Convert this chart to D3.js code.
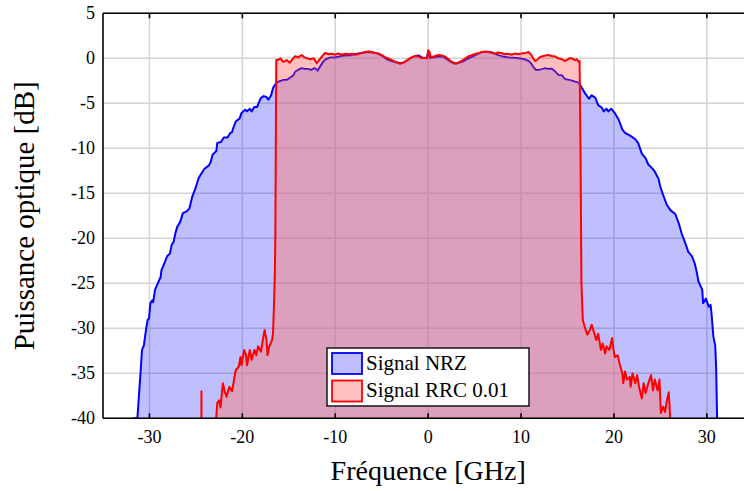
<!DOCTYPE html>
<html>
<head>
<meta charset="utf-8">
<script src="https://cdn.jsdelivr.net/npm/d3@7"></script>
<style>
  html, body { margin: 0; padding: 0; background: #fff; }
  svg { display: block; }
  text { font-family: "Liberation Serif", "DejaVu Serif", serif; fill: #000; }
</style>
</head>
<body>
<svg id="chart" width="744" height="491"></svg>
<script>
// Axis ticks
const xTicks = [-30, -20, -10, 0, 10, 20, 30];
const yTicks = [5, 0, -5, -10, -15, -20, -25, -30, -35, -40];

// Spectrum of the NRZ signal: frequency [GHz] and optical power [dB]
const nrzFreq = [
  -31.7, -31.3, -31.1, -30.9, -30.8, -30.6, -30.35, -30.2, -30.05, -29.9, -29.7, -29.6, -29.4, -29.1,
  -28.8, -28.7, -28.4, -28.1, -27.8, -27.6, -27.4, -27.2, -27.0, -26.7, -26.4, -26.0, -25.7, -25.4,
  -25.1, -24.7, -24.4, -24.1, -23.6, -23.4, -23.2, -22.8, -22.7, -22.3, -22.0, -21.6, -21.3, -21.1,
  -21.0, -20.7, -20.3, -20.1, -19.7, -19.5, -19.2, -19.0, -18.7, -18.4, -18.3, -18.0, -17.7, -17.4,
  -17.2, -16.9, -16.7, -16.4, -16.1, -15.8, -15.5, -15.2, -14.9, -14.5, -14.3, -14.0, -13.6, -13.3,
  -12.9, -12.6, -12.2, -11.9, -11.6, -11.3, -11.0, -10.5, -10.0, -9.5, -8.9, -8.4, -7.9, -7.3,
  -6.8, -6.3, -5.7, -5.3, -4.8, -4.4, -4.0, -3.5, -3.0, -2.6, -2.2, -1.8, -1.4, -1.0, -0.6, -0.2,
  0.0, 0.2, 0.6, 1.0, 1.5, 2.0, 2.5, 2.9, 3.3, 3.8, 4.3, 4.8, 5.3, 5.8, 6.3, 6.9, 7.5, 8.0,
  8.6, 9.1, 9.7, 10.3, 10.8, 11.1, 11.3, 11.6, 11.9, 12.3, 12.6, 13.0, 13.3, 13.7, 14.0, 14.4,
  14.7, 15.1, 15.5, 15.8, 16.2, 16.5, 16.9, 17.3, 17.6, 18.0, 18.3, 18.7, 18.9, 19.2, 19.4, 19.7,
  20.1, 20.5, 20.9, 21.2, 21.6, 21.9, 22.3, 22.6, 23.0, 23.4, 23.7, 24.1, 24.4, 24.8, 25.0, 25.3,
  25.7, 26.1, 26.6, 27.0, 27.3, 27.7, 28.0, 28.4, 28.7, 28.9, 29.1, 29.5, 29.6, 29.9, 30.2, 30.4,
  30.5, 30.7, 30.9, 31.0, 31.1, 31.2
];
const nrzPower = [
  -40.0, -40.0, -37.0, -34.0, -32.4, -31.9, -30.0, -29.1, -28.9, -27.2, -26.9, -27.1, -25.7, -25.0,
  -24.3, -23.5, -22.8, -22.0, -21.7, -20.7, -20.4, -19.4, -18.7, -18.2, -17.2, -17.0, -16.7, -15.4,
  -14.6, -13.3, -12.8, -12.3, -11.9, -11.5, -10.7, -10.3, -9.4, -9.3, -8.8, -8.8, -8.3, -8.2,
  -7.8, -7.0, -6.7, -6.1, -5.7, -5.9, -5.6, -5.9, -5.4, -5.4, -5.1, -4.4, -4.2, -4.3,
  -4.6, -4.1, -3.3, -2.8, -2.6, -2.5, -2.4, -2.4, -2.2, -1.9, -1.5, -1.3, -1.1, -1.2,
  -1.2, -1.3, -1.1, -1.4, -0.9, -0.4, -0.1, 0.1, 0.1, 0.2, 0.3, 0.3, 0.45, 0.55,
  0.65, 0.7, 0.6, 0.45, 0.15, -0.15, -0.3, -0.45, -0.55, -0.45, -0.2, 0.05, 0.25, 0.3, 0.05, 0.0,
  0.6, 0.0, 0.1, 0.15, 0.2, -0.1, -0.45, -0.6, -0.5, -0.35, -0.05, 0.2, 0.45, 0.7, 0.7, 0.65, 0.35, 0.2,
  0.1, 0.05, 0.0, -0.1, -0.3, -0.6, -0.95, -1.3, -1.3, -1.2, -1.1, -1.2, -1.15, -1.5, -1.85, -1.9,
  -2.3, -2.4, -2.5, -2.6, -2.7, -3.2, -3.9, -4.5, -4.1, -4.4, -5.2, -5.5, -5.9, -5.6, -5.9, -5.6,
  -6.1, -6.8, -7.9, -8.3, -8.5, -8.7, -9.0, -9.4, -10.6, -11.1, -11.8, -12.2, -12.6, -13.4, -14.3, -15.2,
  -16.3, -16.9, -17.3, -18.4, -19.5, -20.6, -21.5, -22.0, -22.8, -23.7, -24.8, -25.7, -27.2, -26.7, -27.6, -27.4,
  -28.3, -30.9, -31.9, -34.3, -39.8, -45.0
];

// Spectrum of the RRC (roll-off 0.01) signal
const rrcFreq = [
  -35.0, -24.45, -24.4, -24.35, -22.9, -22.8, -22.7, -22.5, -22.35, -22.1, -21.9, -21.7, -21.4, -21.1,
  -20.9, -20.7, -20.4, -20.2, -20.1, -19.8, -19.6, -19.5, -19.2, -19.0, -18.7, -18.5, -18.3, -18.0,
  -17.8, -17.6, -17.4, -17.3, -17.1, -16.8, -16.7, -16.6, -16.5, -16.45, -16.4, -16.35, -16.2, -15.9,
  -15.6, -15.2, -14.9, -14.6, -14.3, -14.0, -13.6, -13.3, -12.7, -12.3, -12.0, -11.6, -11.1, -10.7,
  -10.4, -10.0, -9.7, -9.3, -8.9, -8.5, -8.2, -7.8, -7.5, -7.1, -6.8, -6.4, -6.1, -5.7, -5.35, -4.9,
  -4.6, -4.2, -3.9, -3.5, -3.0, -2.6, -2.1, -1.8, -1.4, -1.0, -0.7, -0.3, -0.1, 0.0, 0.15, 0.3,
  0.6, 1.1, 1.5, 1.8, 2.2, 2.55, 3.0, 3.3, 3.6, 4.0, 4.3, 4.7, 5.1, 5.5, 5.8, 6.2, 6.5, 6.9,
  7.2, 7.5, 7.9, 8.2, 8.6, 9.0, 9.4, 9.7, 10.1, 10.5, 10.8, 11.1, 11.3, 11.5, 11.7, 12.0, 12.2,
  12.6, 12.95, 13.3, 13.7, 14.0, 14.4, 14.7, 14.9, 15.2, 15.5, 15.8, 16.0, 16.2, 16.3, 16.4, 16.5,
  16.65, 16.9, 17.15, 17.4, 17.6, 17.9, 18.1, 18.3, 18.6, 18.8, 19.05, 19.2, 19.5, 19.8, 19.95, 20.1,
  20.4, 20.6, 20.9, 21.0, 21.2, 21.4, 21.7, 21.8, 22.0, 22.3, 22.5, 22.7, 23.0, 23.2, 23.4, 23.7,
  24.0, 24.2, 24.4, 24.7, 24.9, 25.05, 25.3, 25.5, 25.7, 25.9, 26.05, 26.1, 35.0
];
const rrcPower = [
  -60.0, -60.0, -37.0, -60.0, -60.0, -39.8, -38.3, -38.0, -38.8, -36.1, -37.0, -37.6, -36.5, -37.0,
  -35.7, -34.6, -34.3, -33.2, -34.1, -32.4, -33.0, -34.1, -32.4, -33.5, -32.4, -33.0, -32.0, -32.6,
  -31.3, -30.2, -31.3, -33.0, -32.0, -31.3, -30.6, -27.6, -23.9, -20.0, -10.0, -0.2, -0.2, 0.0,
  -0.4, -0.2, -0.5, -0.1, 0.25, 0.1, 0.37, 0.1, -0.1, 0.0, -0.55, 0.0, 0.6, 0.45,
  0.5, 0.4, 0.55, 0.4, 0.5, 0.45, 0.5, 0.4, 0.5, 0.6, 0.7, 0.75, 0.7, 0.6, 0.55, 0.3,
  0.1, -0.05, -0.2, -0.4, -0.6, -0.45, -0.1, 0.1, 0.25, 0.2, 0.0, 0.05, 0.0, 0.9, 0.7, 0.1,
  0.2, 0.37, 0.3, 0.2, -0.1, -0.4, -0.6, -0.45, -0.3, 0.0, 0.2, 0.35, 0.5, 0.6, 0.7, 0.75, 0.7, 0.6,
  0.5, 0.65, 0.6, 0.45, 0.5, 0.4, 0.55, 0.45, 0.55, 0.6, 0.7, 0.4, 0.0, -0.3, -0.2, 0.1, 0.2,
  0.3, 0.37, 0.25, 0.2, 0.0, -0.1, -0.3, -0.2, 0.0, 0.0, -0.2, -0.1, -0.4, -0.3, -10.0, -25.0,
  -29.1, -30.0, -30.7, -30.2, -29.6, -30.6, -31.3, -30.6, -32.4, -31.7, -32.8, -32.0, -32.4, -31.1, -32.4, -33.2,
  -33.0, -33.9, -35.0, -36.1, -34.8, -35.7, -35.4, -36.5, -35.0, -36.1, -35.2, -36.5, -37.8, -36.1, -37.2, -36.1,
  -35.2, -36.9, -35.7, -36.9, -35.7, -39.4, -38.7, -39.3, -38.0, -37.1, -39.8, -60.0, -60.0
];

const seriesNames = ["Signal NRZ", "Signal RRC 0.01"];
const xLabel = "Fréquence [GHz]";
const yLabel = "Puissance optique [dB]";

const nrz = nrzFreq.map((f, i) => ({ f, p: nrzPower[i] }));
const rrc = rrcFreq.map((f, i) => ({ f, p: rrcPower[i] }));

const svg = d3.select("#chart");
const plotLeft = 103, plotTop = 13.3, plotBottom = 418.3;
const x = d3.scaleLinear().domain([-35, 35]).range([plotLeft, plotLeft + 70 * 9.29]);
const y = d3.scaleLinear().domain([-40, 5]).range([plotBottom, plotTop]);
const plotRight = x(35);

const area = d3.area().x(d => x(d.f)).y0(y(-40)).y1(d => y(d.p));
const line = d3.line().x(d => x(d.f)).y(d => y(d.p));

const defs = svg.append("defs");
defs.append("clipPath").attr("id", "plotClip")
  .append("rect").attr("x", plotLeft).attr("y", plotTop)
  .attr("width", plotRight - plotLeft).attr("height", plotBottom - plotTop);
// Region under the NRZ curve, used to tint where both spectra overlap
defs.append("clipPath").attr("id", "nrzClip")
  .append("path").datum(nrz).attr("d", area);

// Grid
const grid = svg.append("g").attr("stroke", "#d4d4d4").attr("stroke-width", 1.5);
grid.selectAll("line.gx").data(xTicks).join("line")
  .attr("x1", d => x(d)).attr("x2", d => x(d)).attr("y1", plotTop).attr("y2", plotBottom);
grid.selectAll("line.gy").data(yTicks).join("line")
  .attr("y1", d => y(d)).attr("y2", d => y(d)).attr("x1", plotLeft).attr("x2", plotRight);

// Filled spectra and their outlines
const plot = svg.append("g").attr("clip-path", "url(#plotClip)");
plot.append("path").datum(nrz).attr("d", area).attr("fill", "#0000ff").attr("fill-opacity", 0.25);
plot.append("path").datum(nrz).attr("d", line).attr("fill", "none")
  .attr("stroke", "#0000ff").attr("stroke-width", 2).attr("stroke-linejoin", "round");
plot.append("path").datum(rrc).attr("d", area).attr("fill", "#ff0000").attr("fill-opacity", 0.25);
plot.append("g").attr("clip-path", "url(#nrzClip)")
  .append("path").datum(rrc).attr("d", area).attr("fill", "#fec8bc").attr("fill-opacity", 0.3);
plot.append("path").datum(rrc).attr("d", line).attr("fill", "none")
  .attr("stroke", "#ff0000").attr("stroke-width", 2).attr("stroke-linejoin", "round");

// Frame (left, top, bottom)
const frame = svg.append("g").attr("stroke", "#000").attr("stroke-width", 1.6).attr("fill", "none");
frame.append("line").attr("x1", plotLeft).attr("x2", plotLeft).attr("y1", plotTop).attr("y2", plotBottom);
frame.append("line").attr("x1", plotLeft).attr("x2", plotRight).attr("y1", plotTop).attr("y2", plotTop);
frame.append("line").attr("x1", plotLeft).attr("x2", plotRight).attr("y1", plotBottom).attr("y2", plotBottom);

// Inward ticks on top and bottom
frame.selectAll("line.tb").data(xTicks).join("line")
  .attr("x1", d => x(d)).attr("x2", d => x(d)).attr("y1", plotBottom).attr("y2", plotBottom - 5);
frame.selectAll("line.tt").data(xTicks).join("line")
  .attr("x1", d => x(d)).attr("x2", d => x(d)).attr("y1", plotTop).attr("y2", plotTop + 5);

// Tick labels
svg.append("g").selectAll("text").data(xTicks).join("text")
  .attr("x", d => x(d)).attr("y", 443).attr("text-anchor", "middle")
  .attr("font-size", 18).text(d => d);
svg.append("g").selectAll("text").data(yTicks).join("text")
  .attr("x", 95).attr("y", d => y(d) + 6).attr("text-anchor", "end")
  .attr("font-size", 18).text(d => d);

// Axis titles
svg.append("text").attr("x", x(0)).attr("y", 480).attr("text-anchor", "middle")
  .attr("font-size", 28).text(xLabel);
svg.append("text").attr("transform", `translate(34,${(plotTop + plotBottom) / 2}) rotate(-90)`)
  .attr("text-anchor", "middle").attr("font-size", 29).text(yLabel);

// Legend
const lg = svg.append("g");
lg.append("rect").attr("x", 327).attr("y", 348).attr("width", 202).attr("height", 58)
  .attr("fill", "#fff").attr("stroke", "#222").attr("stroke-width", 1.6);
const legendColors = ["#0000ff", "#ff0000"];
seriesNames.forEach((name, i) => {
  const yy = 353 + i * 27.5;
  lg.append("rect").attr("x", 332).attr("y", yy).attr("width", 30).attr("height", 21)
    .attr("fill", legendColors[i]).attr("fill-opacity", 0.25)
    .attr("stroke", legendColors[i]).attr("stroke-width", 1.8);
  lg.append("text").attr("x", 366).attr("y", yy + 16.5).attr("font-size", 21).text(name);
});
</script>
</body>
</html>
